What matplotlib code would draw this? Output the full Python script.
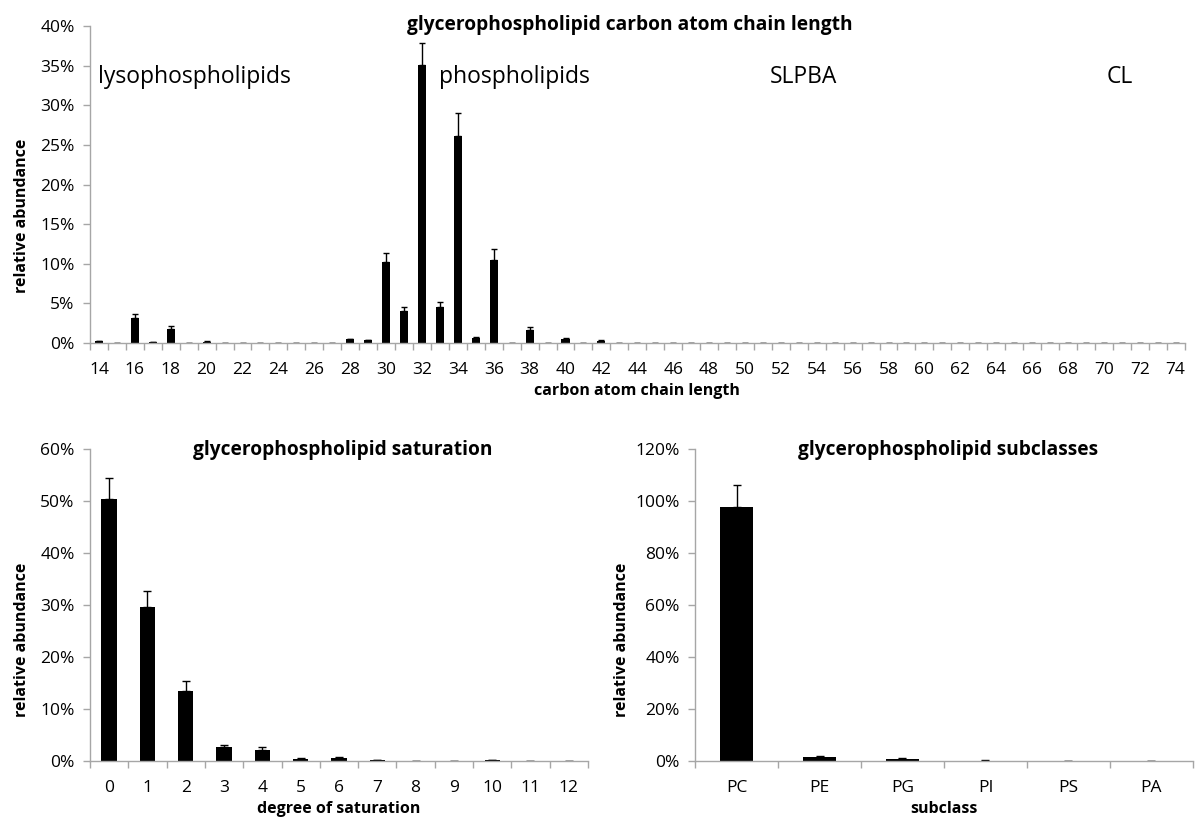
import numpy as np
import matplotlib
matplotlib.use('Agg')
import matplotlib.pyplot as plt
from matplotlib.ticker import FuncFormatter, FixedLocator

plt.rcParams['font.family'] = ['Open Sans', 'DejaVu Sans']

# carbon atom chain length (14..74)
chain_len = list(range(14, 75))
chain_val = [0.2, 0.05, 3.1, 0.1, 1.75, 0.05, 0.15, 0.05, 0.05, 0.05, 0.05, 0.05, 0.05, 0.05,
             0.45, 0.35, 10.2, 4.0, 35.1, 4.5, 26.1, 0.6, 10.5, 0.05, 1.6, 0.05, 0.55, 0.05,
             0.3, 0.05, 0.05, 0.05, 0.05, 0.05, 0.05, 0.05, 0.05, 0.05, 0.05, 0.05, 0.05, 0.05,
             0.05, 0.05, 0.05, 0, 0, 0, 0, 0, 0, 0, 0, 0, 0, 0, 0, 0, 0, 0, 0]
chain_err = [0.05, 0, 0.5, 0, 0.35, 0, 0.05, 0, 0, 0, 0, 0, 0, 0,
             0.1, 0.05, 1.1, 0.6, 2.8, 0.7, 2.9, 0.1, 1.4, 0, 0.4, 0, 0.1, 0,
             0.05, 0, 0, 0, 0, 0, 0, 0, 0, 0, 0, 0, 0, 0,
             0, 0, 0, 0, 0, 0, 0, 0, 0, 0, 0, 0, 0, 0, 0, 0, 0, 0, 0]

# degree of saturation (0..12)
sat_deg = list(range(0, 13))
sat_val = [50.4, 29.6, 13.5, 2.6, 2.2, 0.45, 0.65, 0.1, 0.05, 0, 0.2, 0, 0]
sat_err = [4.0, 3.1, 1.8, 0.4, 0.4, 0.1, 0.1, 0, 0, 0, 0.05, 0, 0]

# subclasses
subclass = ['PC', 'PE', 'PG', 'PI', 'PS', 'PA']
sub_val = [97.5, 1.6, 0.8, 0.15, 0.1, 0.05]
sub_err = [8.7, 0.4, 0.2, 0.05, 0.05, 0]

regions = ['lysophospholipids', 'phospholipids', 'SLPBA', 'CL']

GRAY = '#a6a6a6'
pct = FuncFormatter(lambda v, p: '%d%%' % round(v))
TICK = 12.5
LAB = 11.5
TITLE = 13.8


def style(ax, n, ymax, ystep, first):
    for s in ['top', 'right']:
        ax.spines[s].set_visible(False)
    for s in ['left', 'bottom']:
        ax.spines[s].set_color(GRAY)
        ax.spines[s].set_linewidth(1)
    ax.set_ylim(0, ymax)
    ax.set_yticks(np.arange(0, ymax + ystep / 2, ystep))
    ax.yaxis.set_major_formatter(pct)
    ax.set_xlim(first - 0.5, first + n - 0.5)
    ax.xaxis.set_minor_locator(FixedLocator(np.arange(first - 0.5, first + n, 1.0)))
    ax.tick_params(axis='x', which='minor', length=5, color=GRAY, width=1)
    ax.tick_params(axis='x', which='major', length=0, labelsize=TICK, pad=14)
    ax.tick_params(axis='y', length=5, color=GRAY, width=1, labelsize=TICK, pad=6)


fig = plt.figure(figsize=(11.95, 8.19), dpi=100)

# top chart
ax1 = fig.add_axes([0.0753, 0.5812, 0.916, 0.387])
ax1.bar(chain_len, chain_val, width=0.45, color='black',
        yerr=[np.zeros(len(chain_err)), chain_err],
        error_kw=dict(ecolor='black', elinewidth=1, capsize=2.5, capthick=1))
style(ax1, len(chain_len), 40, 5, chain_len[0])
ax1.set_xticks(chain_len[::2])
ax1.set_xlabel('carbon atom chain length', fontsize=LAB, fontweight='bold', labelpad=3)
ax1.set_ylabel('relative abundance', fontsize=LAB, fontweight='bold')
ax1.yaxis.set_label_coords(-0.055, 0.40)
fig.text(407 / 1195, 0.969, 'glycerophospholipid carbon atom chain length',
         ha='left', va='center', fontsize=TITLE, fontweight='bold')
for name, x in zip(regions, [0.082, 0.367, 0.672, 0.937]):
    ha = 'left' if x < 0.5 else 'center'
    fig.text(x, 0.906, name, ha=ha, va='center', fontsize=16.5)

# bottom left
ax2 = fig.add_axes([0.0753, 0.0708, 0.4167, 0.381])
ax2.bar(sat_deg, sat_val, width=0.4, color='black',
        yerr=[np.zeros(len(sat_err)), sat_err],
        error_kw=dict(ecolor='black', elinewidth=1, capsize=3, capthick=1))
style(ax2, len(sat_deg), 60, 10, sat_deg[0])
ax2.set_xticks(sat_deg)
ax2.set_xlabel('degree of saturation', fontsize=LAB, fontweight='bold', labelpad=3)
ax2.set_ylabel('relative abundance', fontsize=LAB, fontweight='bold')
ax2.yaxis.set_label_coords(-0.12, 0.39)
fig.text(193 / 1195, 0.450, 'glycerophospholipid saturation',
         ha='left', va='center', fontsize=TITLE, fontweight='bold')

# bottom right
ax3 = fig.add_axes([0.5816, 0.0708, 0.4167, 0.381])
x3 = np.arange(len(subclass))
ax3.bar(x3, sub_val, width=0.4, color='black',
        yerr=[np.zeros(len(sub_err)), sub_err],
        error_kw=dict(ecolor='black', elinewidth=1, capsize=3, capthick=1))
style(ax3, len(subclass), 120, 20, 0)
ax3.set_xticks(x3)
ax3.set_xticklabels(subclass)
ax3.set_xlabel('subclass', fontsize=LAB, fontweight='bold', labelpad=3)
ax3.set_ylabel('relative abundance', fontsize=LAB, fontweight='bold')
ax3.yaxis.set_label_coords(-0.13, 0.39)
fig.text(798 / 1195, 0.450, 'glycerophospholipid subclasses',
         ha='left', va='center', fontsize=TITLE, fontweight='bold')

fig.savefig('out.png', dpi=100)
